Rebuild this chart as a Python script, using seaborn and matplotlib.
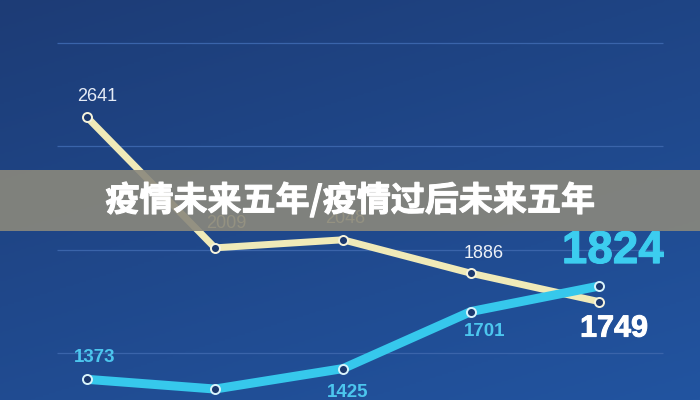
import numpy as np
import pandas as pd
import matplotlib
matplotlib.use("Agg")
import matplotlib.pyplot as plt
import matplotlib.patheffects as pe
from matplotlib.colors import LinearSegmentedColormap
from matplotlib.patches import Rectangle
import seaborn as sns

# values (second cyan value is hidden, estimated)
periods = ["P1", "P2", "P3", "P4", "P5"]
cream_values = [2641, 2009, 2048, 1886, 1749]
cyan_values = [1373, 1326, 1425, 1701, 1824]
cream_labels = ["2641", "2009", "2048", "1886", "1749"]
cyan_labels = ["1373", None, "1425", "1701", "1824"]
grid_values = [1500, 2000, 2500, 3000]
title = "疫情未来五年/疫情过后未来五年"

# label placement / styling (pixel offsets, size, weight, colour)
cream_label_style = [
    ((10, 21), 13, "normal", "#e6ecf6"),
    ((11, 24), 13, "normal", "#efe8b4"),
    ((2, 21), 13, "normal", "#efe8b4"),
    ((13, 20), 13, "normal", "#eef2f8"),
    ((15, -27), 22, "bold", "#ffffff"),
]
cyan_label_style = [
    ((8, 22), 13.5, "bold", "#4cc6ee"),
    None,
    ((5, -24), 13.5, "bold", "#4cc6ee"),
    ((14, -20), 13.5, "bold", "#4cc6ee"),
    ((14, 35), 33, "bold", "#3ccdef"),
]

CREAM = "#f0eab8"
CYAN = "#36c8ec"
NAVY = "#1c396e"


def make_frame():
    x = np.arange(len(periods))
    return pd.DataFrame({"x": x, "period": periods,
                         "cream": cream_values, "cyan": cyan_values})


def draw_background(ax, xlim, ylim):
    ny, nx = 200, 350
    ty = np.linspace(0, 1, ny)[:, None]
    tx = np.linspace(0, 1, nx)[None, :]
    t = 0.65 * ty + 0.35 * tx
    cmap = LinearSegmentedColormap.from_list("bg", ["#1d3c76", "#2254a0"])
    ax.imshow(t, cmap=cmap, extent=[xlim[0], xlim[1], ylim[0], ylim[1]],
              aspect="auto", origin="upper", zorder=0, interpolation="bilinear")


def add_labels(ax, xs, ys, labels, styles):
    for x, y, lab, st in zip(xs, ys, labels, styles):
        if lab is None or st is None:
            continue
        (dx, dy), size, weight, color = st
        t = ax.annotate(lab, (x, y), xytext=(dx, dy), textcoords="offset pixels",
                        ha="center", va="center", fontsize=size, fontweight=weight,
                        color=color, family="Liberation Sans", zorder=5)
        if size > 20:
            # the big end numbers are a touch heavier in the original
            t.set_path_effects([pe.withStroke(linewidth=0.7, foreground=color)])


def plot_chart(df):
    fig = plt.figure(figsize=(7, 4), dpi=100)
    ax = fig.add_axes([0, 0, 1, 1])
    xlim = (-87 / 128, (700 - 87) / 128)
    ylim = (1273, 3208)
    draw_background(ax, xlim, ylim)

    ax.hlines(grid_values, -0.234, 4.5, color="#3a64aa", lw=0.9, zorder=1)

    sns.lineplot(data=df, x="x", y="cream", ax=ax, color=CREAM, lw=5,
                 marker="o", markersize=6.5, markerfacecolor=NAVY,
                 markeredgecolor="#f6f3dc", markeredgewidth=1.4, zorder=3)
    sns.lineplot(data=df, x="x", y="cyan", ax=ax, color=CYAN, lw=6.5,
                 marker="o", markersize=6.5, markerfacecolor=NAVY,
                 markeredgecolor="#d8f3fb", markeredgewidth=1.4, zorder=3)

    add_labels(ax, df["x"], df["cream"], cream_labels, cream_label_style)
    add_labels(ax, df["x"], df["cyan"], cyan_labels, cyan_label_style)

    ax.set_xlim(xlim)
    ax.set_ylim(ylim)
    ax.axis("off")

    # grey title banner over the chart
    ax.add_patch(Rectangle((0, 1 - 231 / 400), 1, 61 / 400,
                           transform=ax.transAxes, facecolor="#8a887c",
                           alpha=0.9, edgecolor="none", zorder=8))
    ax.text(0.5, 1 - 200 / 400, title, transform=ax.transAxes,
            ha="center", va="center", fontsize=24.5, fontweight="bold",
            color="white", family=["Noto Sans CJK SC", "DejaVu Sans"], zorder=9,
            path_effects=[pe.withStroke(linewidth=0.8, foreground="white")])

    fig.savefig("out.png", dpi=100)


if __name__ == "__main__":
    sns.set_theme(style="white")
    plt.rcParams["font.family"] = ["Liberation Sans", "Noto Sans CJK SC", "DejaVu Sans"]
    data = make_frame()
    plot_chart(data)
